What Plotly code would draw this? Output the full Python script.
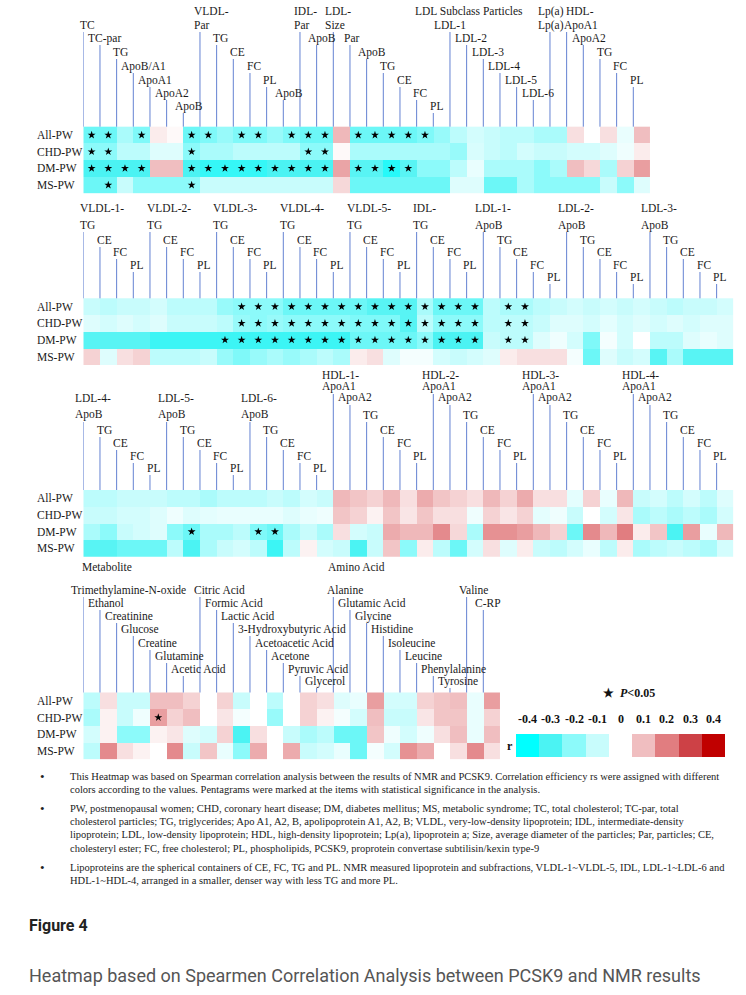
import plotly.graph_objects as go

W, H = 746, 995
CELL = 50 / 3          # heatmap cell size in px
X0 = 83.3              # left edge of all heatmaps in px
FONT = "Liberation Serif, Times New Roman, serif"
LINE_COL = "rgb(100,130,210)"

ROWS = ["All-PW", "CHD-PW", "DM-PW", "MS-PW"]

# ---------------- panel 1 ----------------
p1_leaves = [(0, 1, "TC"), (1, 2, "TC-par"), (2, 3, "TG"), (3, 4, "ApoB/A1"), (4, 5, "ApoA1"),
             (5, 6, "ApoA2"), (6, 7, "ApoB"), (7, 1, "Par"), (8, 2, "TG"), (9, 3, "CE"),
             (10, 4, "FC"), (11, 5, "PL"), (12, 6, "ApoB"), (13, 1, "Par"), (14, 2, "ApoB"),
             (15, 1, "Size"), (16, 2, "Par"), (17, 3, "ApoB"), (18, 4, "TG"), (19, 5, "CE"),
             (20, 6, "FC"), (21, 7, "PL"), (22, 1, "LDL-1"), (23, 2, "LDL-2"), (24, 3, "LDL-3"),
             (25, 4, "LDL-4"), (26, 5, "LDL-5"), (27, 6, "LDL-6"), (28, 1, "Lp(a)"),
             (29, 1, "ApoA1"), (30, 2, "ApoA2"), (31, 3, "TG"), (32, 4, "FC"), (33, 5, "PL")]
p1_heads = [(7, 0, "VLDL-"), (13, 0, "IDL-"), (15, 0, "LDL-"), (22, 0, "LDL Subclass Particles"),
            (28, 0, "Lp(a)"), (29, 0, "HDL-")]
p1_all = [-0.25, -0.25, -0.15, -0.22, 0.03, 0.01, -0.25, -0.22, -0.18, -0.22, -0.22, -0.18, -0.22,
          -0.25, -0.25, 0.11, -0.25, -0.25, -0.25, -0.25, -0.22, -0.18, -0.12, -0.08, -0.1, -0.12,
          -0.12, -0.15, -0.15, 0.05, 0.0, 0.05, -0.04, 0.1]
p1_chd = [-0.2, -0.2, -0.12, -0.12, -0.06, -0.06, -0.2, -0.15, -0.15, -0.12, -0.12, -0.12, -0.12,
          -0.2, -0.2, 0.01, -0.15, -0.15, -0.15, -0.15, -0.15, -0.15, -0.18, -0.07, -0.1, -0.12,
          -0.08, -0.1, -0.1, -0.08, -0.08, -0.06, -0.03, 0.03]
p1_dm = [-0.3, -0.3, -0.3, -0.3, 0.1, 0.1, -0.3, -0.33, -0.33, -0.33, -0.33, -0.3, -0.3, -0.3,
         -0.3, 0.14, -0.28, -0.28, -0.35, -0.28, -0.2, -0.2, -0.12, -0.04, -0.15, -0.15, -0.15,
         -0.2, -0.15, 0.1, 0.06, -0.15, 0.07, 0.15]
p1_ms = [-0.25, -0.25, -0.1, -0.2, -0.2, -0.2, -0.2, -0.1, -0.1, -0.1, -0.1, -0.1, -0.1, -0.1, -0.1,
         0.06, -0.25, -0.25, -0.25, -0.25, -0.25, -0.25, -0.06, -0.06, -0.25, -0.25, -0.15, -0.2,
         -0.2, -0.2, -0.2, -0.1, -0.2, -0.06]
p1_stars = {"All-PW": [0, 1, 3, 6, 7, 9, 10, 12, 13, 14, 16, 17, 18, 19, 20],
            "CHD-PW": [0, 1, 6, 13, 14],
            "DM-PW": [0, 1, 2, 3, 6, 7, 8, 9, 10, 11, 12, 13, 14, 16, 17, 18, 19],
            "MS-PW": [1, 6]}

# ---------------- panel 2 ----------------
p2_leaves = [(0, 1, "TG"), (1, 2, "CE"), (2, 3, "FC"), (3, 4, "PL"),
             (4, 1, "TG"), (5, 2, "CE"), (6, 3, "FC"), (7, 4, "PL"),
             (8, 1, "TG"), (9, 2, "CE"), (10, 3, "FC"), (11, 4, "PL"),
             (12, 1, "TG"), (13, 2, "CE"), (14, 3, "FC"), (15, 4, "PL"),
             (16, 1, "TG"), (17, 2, "CE"), (18, 3, "FC"), (19, 4, "PL"),
             (20, 1, "TG"), (21, 2, "CE"), (22, 3, "FC"), (23, 4, "PL"),
             (24, 1, "ApoB"), (25, 2, "TG"), (26, 3, "CE"), (27, 4, "FC"), (28, 5, "PL"),
             (29, 1, "ApoB"), (30, 2, "TG"), (31, 3, "CE"), (32, 4, "FC"), (33, 5, "PL"),
             (34, 1, "ApoB"), (35, 2, "TG"), (36, 3, "CE"), (37, 4, "FC"), (38, 5, "PL")]
p2_heads = [(0, 0, "VLDL-1-"), (4, 0, "VLDL-2-"), (8, 0, "VLDL-3-"), (12, 0, "VLDL-4-"),
            (16, 0, "VLDL-5-"), (20, 0, "IDL-"), (24, 0, "LDL-1-"), (29, 0, "LDL-2-"),
            (34, 0, "LDL-3-")]
p2_all = [-0.1, -0.12, -0.1, -0.1, -0.08, -0.12, -0.12, -0.12, -0.18, -0.2, -0.2, -0.2, -0.25,
          -0.25, -0.25, -0.25, -0.25, -0.28, -0.28, -0.28, -0.15, -0.25, -0.25, -0.25, -0.12,
          -0.15, -0.15, -0.12, -0.1, -0.08, -0.1, -0.08, -0.1, -0.08, -0.1, -0.12, -0.1, -0.1, -0.08]
p2_chd = [-0.06, -0.08, -0.06, -0.08, -0.06, -0.1, -0.1, -0.1, -0.12, -0.18, -0.2, -0.18, -0.2,
          -0.2, -0.2, -0.2, -0.22, -0.22, -0.22, -0.28, -0.12, -0.2, -0.2, -0.2, -0.12, -0.12,
          -0.12, -0.1, -0.06, -0.06, -0.08, -0.05, -0.08, -0.06, -0.08, -0.06, -0.08, -0.06, -0.06]
p2_dm = [-0.28, -0.28, -0.28, -0.28, -0.32, -0.32, -0.32, -0.32, -0.32, -0.32, -0.32, -0.32, -0.32,
         -0.32, -0.32, -0.32, -0.25, -0.25, -0.25, -0.25, -0.2, -0.3, -0.3, -0.3, -0.1, -0.12,
         -0.12, -0.06, -0.03, -0.08, -0.22, -0.02, -0.08, 0.0, -0.12, -0.12, -0.06, -0.04, -0.06]
p2_ms = [0.07, -0.06, 0.05, 0.07, -0.12, -0.12, -0.12, -0.1, -0.18, -0.22, -0.18, -0.15, -0.18,
         -0.15, -0.12, -0.15, 0.03, 0.05, -0.06, -0.02, -0.02, -0.08, -0.1, -0.08, -0.06, 0.03,
         0.05, 0.05, 0.05, -0.02, -0.25, -0.06, -0.1, -0.08, -0.28, -0.15, -0.28, -0.28, -0.28]
p2_stars = {"All-PW": [9, 10, 11, 12, 13, 14, 15, 16, 17, 18, 19, 20, 21, 22, 23, 25, 26],
            "CHD-PW": [9, 10, 11, 12, 13, 14, 15, 16, 17, 18, 19, 20, 21, 22, 23, 25, 26],
            "DM-PW": [8, 9, 10, 11, 12, 13, 14, 15, 16, 17, 18, 19, 20, 21, 22, 23, 25, 26],
            "MS-PW": []}

# ---------------- panel 3 ----------------
p3_leaves = [(0, 3, "ApoB"), (1, 4, "TG"), (2, 5, "CE"), (3, 6, "FC"), (4, 7, "PL"),
             (5, 3, "ApoB"), (6, 4, "TG"), (7, 5, "CE"), (8, 6, "FC"), (9, 7, "PL"),
             (10, 3, "ApoB"), (11, 4, "TG"), (12, 5, "CE"), (13, 6, "FC"), (14, 7, "PL"),
             (15, 1, "ApoA1"), (16, 2, "ApoA2"), (17, 3, "TG"), (18, 4, "CE"), (19, 5, "FC"), (20, 6, "PL"),
             (21, 1, "ApoA1"), (22, 2, "ApoA2"), (23, 3, "TG"), (24, 4, "CE"), (25, 5, "FC"), (26, 6, "PL"),
             (27, 1, "ApoA1"), (28, 2, "ApoA2"), (29, 3, "TG"), (30, 4, "CE"), (31, 5, "FC"), (32, 6, "PL"),
             (33, 1, "ApoA1"), (34, 2, "ApoA2"), (35, 3, "TG"), (36, 4, "CE"), (37, 5, "FC"), (38, 6, "PL")]
p3_heads = [(0, 2, "LDL-4-"), (5, 2, "LDL-5-"), (10, 2, "LDL-6-"), (15, 0, "HDL-1-"),
            (21, 0, "HDL-2-"), (27, 0, "HDL-3-"), (33, 0, "HDL-4-")]
p3_all = [-0.12, -0.12, -0.1, -0.1, -0.1, -0.12, -0.12, -0.15, -0.12, -0.12, -0.12, -0.1, -0.12,
          -0.08, -0.1, 0.11, 0.09, 0.07, 0.11, 0.05, 0.13, 0.09, 0.07, 0.05, 0.11, 0.07, 0.13, 0.05,
          0.05, -0.05, 0.07, -0.04, 0.11, -0.1, -0.08, -0.12, -0.08, -0.12, -0.06]
p3_chd = [-0.1, -0.1, -0.08, -0.08, -0.06, -0.03, -0.06, -0.05, -0.04, -0.04, -0.04, -0.04, -0.06,
          -0.04, -0.03, 0.09, 0.07, 0.02, 0.09, 0.04, 0.09, 0.05, 0.05, -0.03, 0.07, 0.04, 0.07, -0.05,
          -0.03, -0.1, 0.0, -0.08, 0.04, -0.15, -0.12, -0.15, -0.12, -0.15, -0.08]
p3_dm = [-0.15, -0.2, -0.1, -0.08, -0.06, -0.2, -0.25, -0.15, -0.15, -0.12, -0.22, -0.25, -0.15,
         -0.1, -0.15, 0.05, -0.08, -0.1, 0.13, 0.11, 0.11, 0.18, 0.06, -0.15, 0.17, 0.17, 0.15, 0.11,
         0.07, -0.25, 0.18, 0.11, 0.2, 0.03, 0.09, -0.3, 0.15, -0.04, 0.11]
p3_ms = [-0.28, -0.28, -0.25, -0.25, -0.25, -0.12, -0.3, -0.15, -0.1, -0.08, -0.12, -0.32, -0.12,
         0.02, -0.08, -0.1, -0.3, -0.1, 0.09, -0.2, 0.03, -0.12, -0.25, -0.08, 0.05, -0.06, 0.03,
         -0.1, -0.12, -0.08, -0.04, -0.12, 0.03, -0.15, -0.12, -0.1, -0.12, -0.15, -0.08]
p3_stars = {"All-PW": [], "CHD-PW": [], "DM-PW": [6, 10, 11], "MS-PW": []}

# ---------------- panel 4 ----------------
p4_leaves = [(0, 0, "Trimethylamine-N-oxide"), (1, 1, "Ethanol"), (2, 2, "Creatinine"),
             (3, 3, "Glucose"), (4, 4, "Creatine"), (5, 5, "Glutamine"), (6, 6, "Acetic Acid"),
             (7, 0, "Citric Acid"), (8, 1, "Formic Acid"), (9, 2, "Lactic Acid"),
             (10, 3, "3-Hydroxybutyric Acid"), (11, 4, "Acetoacetic Acid"), (12, 5, "Acetone"),
             (13, 6, "Pyruvic Acid"), (14, 7, "Glycerol"), (15, 0, "Alanine"),
             (16, 1, "Glutamic Acid"), (17, 2, "Glycine"), (18, 3, "Histidine"),
             (19, 4, "Isoleucine"), (20, 5, "Leucine"), (21, 6, "Phenylalanine"),
             (22, 7, "Tyrosine"), (23, 0, "Valine"), (24, 1, "C-RP")]
p4_heads = []
p4_all = [-0.12, 0.05, -0.1, -0.1, 0.1, 0.1, 0.07, 0.0, 0.07, -0.1, 0.0, -0.12, 0.0, 0.07, 0.05,
          -0.06, -0.04, 0.15, -0.08, -0.08, 0.07, 0.09, 0.1, -0.04, 0.15]
p4_chd = [-0.15, 0.02, -0.1, -0.03, 0.15, 0.07, 0.1, 0.0, 0.04, -0.02, 0.0, -0.18, 0.0, 0.07, 0.02,
          -0.02, -0.08, 0.1, -0.1, -0.1, 0.04, 0.09, 0.09, -0.04, 0.07]
p4_dm = [-0.08, 0.02, -0.2, -0.2, 0.02, 0.04, -0.06, -0.08, 0.07, -0.3, 0.05, 0.0, -0.1, -0.15,
         -0.12, -0.25, -0.25, 0.09, -0.03, -0.08, -0.03, 0.05, 0.1, -0.04, 0.1]
p4_ms = [-0.12, 0.18, 0.05, 0.02, 0.0, 0.18, -0.1, 0.09, -0.04, -0.2, 0.13, 0.0, 0.13, -0.1, -0.08,
         -0.04, -0.25, -0.02, -0.08, 0.17, 0.13, 0.0, 0.05, 0.18, 0.05]
p4_stars = {"All-PW": [], "CHD-PW": [4], "DM-PW": [], "MS-PW": []}

# legend
legend_vals = [-0.4, -0.3, -0.2, -0.1, 0, 0.1, 0.2, 0.3, 0.4]
legend_text = ["-0.4", "-0.3", "-0.2", "-0.1", "0", "0.1", "0.2", "0.3", "0.4"]

notes = [
    ["This Heatmap was based on Spearman correlation analysis between the results of NMR and PCSK9. Correlation efficiency rs were assigned with different",
     "colors according to the values. Pentagrams were marked at the items with statistical significance in the analysis."],
    ["PW, postmenopausal women; CHD, coronary heart disease; DM, diabetes mellitus; MS, metabolic syndrome; TC, total cholesterol; TC-par, total",
     "cholesterol particles; TG, triglycerides; Apo A1, A2, B, apolipoprotein A1, A2, B; VLDL, very-low-density lipoprotein; IDL, intermediate-density",
     "lipoprotein; LDL, low-density lipoprotein; HDL, high-density lipoprotein; Lp(a), lipoprotein a; Size, average diameter of the particles; Par, particles; CE,",
     "cholesteryl ester; FC, free cholesterol; PL, phospholipids, PCSK9, proprotein convertase subtilisin/kexin type-9"],
    ["Lipoproteins are the spherical containers of CE, FC, TG and PL. NMR measured lipoprotein and subfractions, VLDL-1~VLDL-5, IDL, LDL-1~LDL-6 and",
     "HDL-1~HDL-4, arranged in a smaller, denser way with less TG and more PL."],
]

CS = [[0, "rgb(0,255,255)"], [0.125, "rgb(75,243,243)"], [0.25, "rgb(140,250,250)"],
      [0.375, "rgb(200,252,252)"], [0.5, "rgb(255,255,255)"], [0.625, "rgb(240,190,192)"],
      [0.75, "rgb(225,125,128)"], [0.875, "rgb(205,65,70)"], [1, "rgb(192,0,0)"]]

panels = [
    dict(leaves=p1_leaves, heads=p1_heads, z=[p1_all, p1_chd, p1_dm, p1_ms], stars=p1_stars,
         heat_top=126.7, area_top=0, levels=[11, 25, 38, 52, 66, 80, 93, 106]),
    dict(leaves=p2_leaves, heads=p2_heads, z=[p2_all, p2_chd, p2_dm, p2_ms], stars=p2_stars,
         heat_top=298.3, area_top=198, levels=[208, 225, 240, 252, 265, 277]),
    dict(leaves=p3_leaves, heads=p3_heads, z=[p3_all, p3_chd, p3_dm, p3_ms], stars=p3_stars,
         heat_top=490, area_top=366, levels=[375, 387, 398, 415, 430, 443, 456, 468]),
    dict(leaves=p4_leaves, heads=p4_heads, z=[p4_all, p4_chd, p4_dm, p4_ms], stars=p4_stars,
         heat_top=692.5, area_top=582, levels=[590, 603, 616, 629, 643, 656, 669, 681]),
]
# small hand nudges (px) for labels that sit off the usual rule
head_shift = {"LDL Subclass Particles": -37, "HDL-": -3}
nudge = {(1, 22): -4, (1, 29): 9, (4, 7): 6, (4, 15): 6, (4, 23): 4}


def shift(txt):
    return -min(2.7 * len(txt), 14)


fig = go.Figure()
shapes, annos = [], []
txt_font = dict(family=FONT, size=11.5, color="#1a1a1a")

for k, p in enumerate(panels, start=1):
    xa = "x" if k == 1 else f"x{k}"
    ya = "y" if k == 1 else f"y{k}"
    n = len(p["z"][0])
    top = 3.5 + (p["heat_top"] - p["area_top"]) / CELL
    bottom_px = p["heat_top"] + 4 * CELL

    fig.add_trace(go.Heatmap(z=p["z"][::-1], x=list(range(n)), y=[0, 1, 2, 3], zmin=-0.4, zmax=0.4,
                             colorscale=CS, showscale=False, xaxis=xa, yaxis=ya, hoverinfo="skip"))
    sx, sy = [], []
    for r, name in enumerate(ROWS):
        for c in p["stars"][name]:
            sx.append(c)
            sy.append(3 - r)
    fig.add_trace(go.Scatter(x=sx, y=sy, mode="markers", xaxis=xa, yaxis=ya, showlegend=False,
                             hoverinfo="skip", marker=dict(symbol="star", size=6, color="black")))

    lev = lambda lv: 3.5 + (p["heat_top"] - p["levels"][lv]) / CELL
    first = {}
    for c, lv, txt in p["leaves"]:
        y = lev(lv)
        first.setdefault(c, txt)
        shapes.append(dict(type="line", xref=xa, yref=ya, x0=c - 0.5, x1=c - 0.5, y0=3.5, y1=y - 0.42,
                           line=dict(color=LINE_COL, width=1)))
        annos.append(dict(xref=xa, yref=ya, x=c - 0.5, y=y, text=txt, showarrow=False,
                          xanchor="left", yanchor="middle",
                          xshift=shift(txt) + nudge.get((k, c), 0), font=txt_font))
    for c, lv, txt in p["heads"]:
        annos.append(dict(xref=xa, yref=ya, x=c - 0.5, y=lev(lv), text=txt, showarrow=False,
                          xanchor="left", yanchor="middle",
                          xshift=head_shift.get(txt, shift(first[c])), font=txt_font))
    for r, name in enumerate(ROWS):
        annos.append(dict(xref="paper", yref=ya, x=35 / W, y=3 - r, text=name, showarrow=False,
                          xanchor="left", yanchor="middle", font=txt_font))

    ax = dict(domain=[X0 / W, (X0 + n * CELL) / W], range=[-0.5, n - 0.5], visible=False,
              fixedrange=True)
    ay = dict(domain=[1 - bottom_px / H, 1 - p["area_top"] / H], range=[-0.5, top], visible=False,
              fixedrange=True)
    fig.update_layout(**{("xaxis" if k == 1 else f"xaxis{k}"): ax,
                         ("yaxis" if k == 1 else f"yaxis{k}"): ay})

# colour legend
fig.add_trace(go.Heatmap(z=[legend_vals], x=list(range(9)), y=[0], zmin=-0.4, zmax=0.4, colorscale=CS,
                         showscale=False, xaxis="x5", yaxis="y5", hoverinfo="skip"))
fig.update_layout(xaxis5=dict(domain=[516 / W, 725 / W], range=[-0.5, 8.5], visible=False),
                  yaxis5=dict(domain=[1 - 757 / H, 1 - 734 / H], range=[-0.5, 0.5], visible=False))
bold = dict(family=FONT, size=12, color="#111")
for i, t in enumerate(legend_text):
    annos.append(dict(xref="x5", yref="paper", x=i, y=1 - 719 / H, text=f"<b>{t}</b>",
                      showarrow=False, yanchor="middle", font=bold))
annos.append(dict(xref="paper", yref="paper", x=505 / W, y=1 - 746 / H, text="<b>r</b>",
                  showarrow=False, xanchor="left", yanchor="middle", font=bold))
annos.append(dict(xref="paper", yref="paper", x=601 / W, y=1 - 693 / H,
                  text="<b>★  <i>P</i>&lt;0.05</b>", showarrow=False, xanchor="left",
                  yanchor="middle", font=bold))

# group captions under panel 3
annos.append(dict(xref="paper", yref="paper", x=80 / W, y=1 - 567 / H, text="Metabolite",
                  showarrow=False, xanchor="left", yanchor="middle", font=txt_font))
annos.append(dict(xref="paper", yref="paper", x=326 / W, y=1 - 567 / H, text="Amino Acid",
                  showarrow=False, xanchor="left", yanchor="middle", font=txt_font))

# footnotes
note_font = dict(family=FONT, size=10.5, color="#222")
y = 776
for para in notes:
    annos.append(dict(xref="paper", yref="paper", x=38 / W, y=1 - y / H, text="•", showarrow=False,
                      xanchor="left", yanchor="middle", font=dict(family=FONT, size=13, color="#222")))
    for line in para:
        annos.append(dict(xref="paper", yref="paper", x=68 / W, y=1 - y / H, text=line,
                          showarrow=False, xanchor="left", yanchor="middle", font=note_font))
        y += 13.5
    y += 5

annos.append(dict(xref="paper", yref="paper", x=27 / W, y=1 - 925 / H, text="<b>Figure 4</b>",
                  showarrow=False, xanchor="left", yanchor="middle",
                  font=dict(family="Roboto, sans-serif", size=16, color="#222")))
annos.append(dict(xref="paper", yref="paper", x=27 / W, y=1 - 975 / H,
                  text="Heatmap based on Spearmen Correlation Analysis between PCSK9 and NMR results",
                  showarrow=False, xanchor="left", yanchor="middle",
                  font=dict(family="Roboto, sans-serif", size=18, color="#555")))

fig.update_layout(width=W, height=H, margin=dict(l=0, r=0, t=0, b=0), plot_bgcolor="white",
                  paper_bgcolor="white", showlegend=False, shapes=shapes, annotations=annos)

# drop the default page margin so the figure sits at the window's corner
fig.write_html("out.html", config={"displayModeBar": False},
               post_script="document.body.style.margin='0';")
